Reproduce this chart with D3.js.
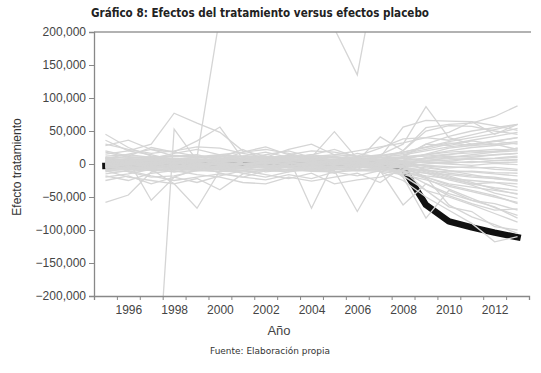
<!DOCTYPE html>
<html>
<head>
<meta charset="utf-8">
<script src="https://cdn.jsdelivr.net/npm/d3@7"></script>
<style>
  body { margin: 0; background: #fff; }
  text { font-family: "Liberation Sans", Arial, sans-serif; }
</style>
</head>
<body>
<div id="chart"></div>
<script>
// years on the x axis
const years = [1995, 1996, 1997, 1998, 1999, 2000, 2001, 2002, 2003, 2004, 2005, 2006, 2007, 2008, 2009, 2010, 2011, 2012, 2013];
const yTicks = [-200000, -150000, -100000, -50000, 0, 50000, 100000, 150000, 200000];
const xLabels = [1996, 1998, 2000, 2002, 2004, 2006, 2008, 2010, 2012];

// treated unit (thousands)
const treated = [-3, -2, 1, 0, -1, 1, 2, 0, -1, 1, 0, -1, 0, -6, -62, -87, -96, -104, -111];

// placebo units (thousands)
const placebo = [
  [2, 4, 3, 5, 2, 6, 4, 3, 5, 4, 2, 3, 5, 6, 8, 10, 12, 14, 16],
  [-3, -5, -4, -2, -6, -3, -5, -4, -2, -3, -5, -4, -6, -8, -10, -12, -11, -13, -14],
  [6, 8, 7, 9, 6, 8, 7, 9, 8, 7, 6, 8, 9, 11, 14, 18, 20, 22, 21],
  [-7, -8, -9, -7, -10, -8, -9, -7, -8, -10, -9, -8, -7, -12, -18, -22, -25, -28, -30],
  [0, 1, -1, 2, 0, 1, -1, 0, 2, 1, 0, -1, 1, 2, 3, 1, 4, 2, 3],
  [4, 2, 5, 3, 4, 2, 6, 5, 3, 4, 5, 3, 2, 1, -2, -4, -6, -5, -8],
  [-1, -3, -2, -4, -1, -2, -3, -1, -4, -2, -1, -3, -2, 0, 4, 6, 9, 8, 10],
  [8, 6, 9, 7, 10, 9, 8, 6, 7, 9, 10, 8, 7, 10, 12, 15, 17, 19, 24],
  [-5, -4, -6, -5, -3, -6, -4, -5, -6, -4, -3, -5, -4, -6, -9, -14, -18, -20, -25],
  [1, 3, 2, 0, 3, 4, 2, 1, 0, 2, 3, 1, 2, 4, 6, 8, 7, 9, 12],
  [-9, -7, -10, -8, -6, -9, -10, -8, -9, -7, -8, -10, -9, -14, -20, -30, -35, -40, -45],
  [3, 5, 4, 6, 5, 3, 4, 6, 5, 3, 4, 6, 4, 8, 14, 20, 25, 28, 32],
  [-2, 0, -1, -3, -2, 0, -1, -2, -3, -1, -2, 0, -1, -3, -6, -10, -12, -15, -18],
  [5, 7, 6, 4, 7, 5, 6, 8, 6, 5, 7, 6, 5, 4, 2, 0, -2, 1, -1],
  [-6, -4, -5, -7, -4, -5, -6, -4, -5, -7, -6, -4, -5, -3, 0, 3, 2, 5, 6],
  [10, 9, 11, 8, 10, 12, 9, 11, 10, 8, 11, 9, 10, 14, 20, 26, 30, 34, 40],
  [-10, -11, -9, -12, -10, -11, -12, -10, -9, -11, -12, -10, -11, -16, -24, -34, -42, -50, -58],
  [0, -2, 1, -1, 2, -2, 0, 1, -1, -2, 1, 2, 0, -4, -12, -22, -30, -36, -40],
  [7, 5, 8, 6, 4, 7, 5, 8, 6, 7, 5, 8, 6, 3, -4, -10, -16, -22, -26],
  [-4, -6, -3, -5, -7, -4, -6, -3, -5, -4, -6, -3, -5, -2, 4, 10, 14, 18, 20],
  [2, 0, 3, 1, -1, 2, 0, 3, 1, 0, 2, 1, 3, 5, 9, 12, 10, 14, 16],
  [-8, -6, -7, -9, -8, -6, -7, -9, -8, -6, -7, -9, -8, -10, -14, -16, -20, -22, -24],
  [9, 11, 10, 12, 11, 9, 12, 10, 11, 12, 9, 11, 12, 16, 22, 30, 36, 42, 48],
  [-3, -1, -4, -2, -3, -1, -4, -2, -3, -1, -4, -2, -3, -6, -14, -24, -32, -44, -52],
  [1, 2, 0, 3, 1, 2, 0, 3, 1, 2, 0, 3, 1, 0, -3, -6, -4, -8, -10],
  [6, 4, 7, 5, 8, 6, 4, 7, 5, 8, 6, 4, 7, 9, 6, 4, 8, 5, 7],
  [-5, -7, -6, -4, -5, -7, -6, -4, -5, -7, -6, -4, -6, -10, -22, -38, -52, -66, -78],
  [4, 6, 5, 7, 3, 5, 6, 4, 7, 5, 3, 6, 4, 2, -8, -18, -28, -38, -46],
  [-1, 1, 0, -2, 1, -1, 0, 2, -2, 1, -1, 0, 2, 6, 15, 24, 28, 30, 34],
  [12, 14, 10, 13, 11, 14, 12, 10, 13, 11, 14, 12, 13, 18, 26, 34, 40, 46, 54],
  [45, 25, 12, 8, 5, 14, 10, 6, 12, 8, 4, 10, 6, 20, 55, 60, 62, 72, 88],
  [-58, -47, -12, -5, 0, -8, 4, 2, -6, -3, 5, 2, -4, 12, 30, 28, 35, 30, 22],
  [36, 20, 14, 6, -4, 8, 12, 18, 10, 14, 22, 10, 14, 30, 87, 40, 30, 35, 40],
  [28, 36, 22, 12, 14, 6, 18, 22, 16, 8, 12, 4, 10, 56, 66, 65, 64, 58, 51],
  [10, 5, -55, -20, -8, -12, -6, -2, -10, -4, -8, -6, -2, -18, -40, -50, -62, -75, -88],
  [15, 20, 30, 77, 62, 48, 20, 12, 8, 14, 10, 6, 12, 18, 25, 32, 28, 35, 30],
  [-500, -500, -480, 53, 5, 2, -4, 6, 3, -2, 4, 0, 2, -6, -20, -32, -40, -48, -60],
  [-2, 4, 2, 6, 10, 225, 280, 300, 290, 260, 205, 135, 320, 340, 360, 380, 400, 420, 440],
  [-20, -15, -8, -30, -67, -10, -4, -12, -8, -6, -14, -4, -8, -2, 10, 14, 20, 18, 24],
  [20, 12, 25, 18, 35, 56, 8, 14, 20, 10, 6, 16, 10, 4, -10, -20, -30, -28, -35],
  [-10, -20, -25, -30, -22, -39, -15, -8, -4, -10, -6, -2, -6, -12, -30, -45, -55, -60, -70],
  [8, 15, 22, 18, 12, 10, 22, 6, 10, -67, 4, -8, 6, -20, -82, -40, -55, -65, -82],
  [-4, -8, -6, -12, -6, 2, 8, 12, 4, 10, 49, 8, 6, 10, 30, 42, 50, 55, 60],
  [-15, -10, -18, -25, -20, -15, -20, -10, -12, -8, -10, -72, -12, -25, -50, -70, -90, -118, -110],
  [5, -12, -20, -18, -10, -6, -14, -20, -12, 6, 10, 4, 41, 20, 50, 58, 57, 50, 45],
  [-12, -6, -4, -8, -2, -14, -20, -24, -16, -22, -12, -18, -10, -62, -30, -48, -60, -70, -68],
  [18, 10, 8, 16, 22, 14, 18, 26, 14, 20, 18, 12, 24, 38, 40, 48, 64, 45, 60],
  [-25, -18, -30, -20, -28, -18, -10, -16, -22, -14, -30, -24, -20, -10, -40, -65, -72, -95, -100],
  [30, 22, 16, 20, 26, 24, 16, 10, 22, 30, 14, 20, 26, 32, 40, 36, 44, 52, 60],
  [-18, -25, -14, -10, -16, -20, -28, -30, -20, -26, -20, -14, -28, -4, -20, -62, -80, -92, -105]
];

const margin = {top: 32, right: 10, bottom: 77, left: 94},
    width = 541 - margin.left - margin.right,
    height = 373 - margin.top - margin.bottom;

const root = d3.select("#chart")
    .append("svg")
    .attr("width", 541)
    .attr("height", 373);

root.append("rect").attr("width", 541).attr("height", 373).attr("fill", "#fff");

root.append("text")
    .attr("x", 91)
    .attr("y", 17)
    .attr("textLength", 338)
    .attr("lengthAdjust", "spacingAndGlyphs")
    .style("font-family", "'DejaVu Sans', sans-serif")
    .style("font-weight", "bold")
    .style("font-size", "12.5px")
    .style("fill", "#222")
    .text("Gráfico 8: Efectos del tratamiento versus efectos placebo");

const svg = root.append("g")
    .attr("transform", `translate(${margin.left},${margin.top})`);

const x_scale = d3.scaleLinear()
    .domain([1994.5, 2013.5])
    .range([0, width - 2]);

const y_scale = d3.scaleLinear()
    .domain([-200000, 200000])
    .range([height, 0]);

svg.append("clipPath")
    .attr("id", "plot-clip")
    .append("rect")
    .attr("width", width)
    .attr("height", height);

const line = d3.line()
    .x((d, i) => x_scale(years[i]))
    .y(d => y_scale(d * 1000));

const plot = svg.append("g").attr("clip-path", "url(#plot-clip)");

// treated line sits under the placebo lines
plot.append("path")
    .datum(treated)
    .attr("d", line)
    .attr("fill", "none")
    .attr("stroke", "#111")
    .attr("stroke-width", 6.5)
    .attr("stroke-linejoin", "round")
    .attr("stroke-linecap", "square");

plot.selectAll(".placebo")
    .data(placebo)
    .enter()
    .append("path")
    .attr("class", "placebo")
    .attr("d", line)
    .attr("fill", "none")
    .attr("stroke", "#d5d5d5")
    .attr("stroke-width", 1.3);

// frame top
svg.append("line")
    .attr("x1", 0).attr("x2", width)
    .attr("y1", 0).attr("y2", 0)
    .attr("stroke", "#999")
    .attr("stroke-width", 1.5);

// y axis
const yAxis = svg.append("g")
    .call(d3.axisLeft(y_scale)
        .tickValues(yTicks)
        .tickSize(5)
        .tickPadding(3)
        .tickFormat(d3.format(",")));

// x axis ticks at half years, labels on even years
const halfYears = d3.range(1994.5, 2014, 1);
const xAxis = svg.append("g")
    .attr("transform", `translate(0,${height})`)
    .call(d3.axisBottom(x_scale)
        .tickValues(halfYears)
        .tickSize(4)
        .tickFormat(""));

const xLab = svg.append("g")
    .attr("transform", `translate(0,${height})`)
    .call(d3.axisBottom(x_scale)
        .tickValues(xLabels)
        .tickSize(0)
        .tickPadding(9)
        .tickFormat(d3.format("d")));
xLab.select(".domain").remove();

[yAxis, xAxis].forEach(a => {
    a.select(".domain").attr("stroke", "#888").attr("stroke-width", 1.3);
    a.selectAll(".tick line").attr("stroke", "#888");
});
[yAxis, xLab].forEach(a => {
    a.selectAll(".tick text")
        .style("font-family", "'Liberation Sans', Arial, sans-serif")
        .style("font-size", "12px")
        .style("fill", "#444");
});

// axis titles
root.append("text")
    .attr("transform", "translate(21,167) rotate(-90)")
    .attr("text-anchor", "middle")
    .style("font-size", "12px")
    .style("fill", "#333")
    .text("Efecto tratamiento");

root.append("text")
    .attr("x", 279)
    .attr("y", 335)
    .attr("text-anchor", "middle")
    .style("font-size", "13px")
    .style("fill", "#444")
    .text("Año");

root.append("text")
    .attr("x", 210)
    .attr("y", 354)
    .attr("textLength", 120)
    .attr("lengthAdjust", "spacingAndGlyphs")
    .style("font-family", "'DejaVu Sans', sans-serif")
    .style("font-size", "9px")
    .style("fill", "#333")
    .text("Fuente: Elaboración propia");
</script>
</body>
</html>
